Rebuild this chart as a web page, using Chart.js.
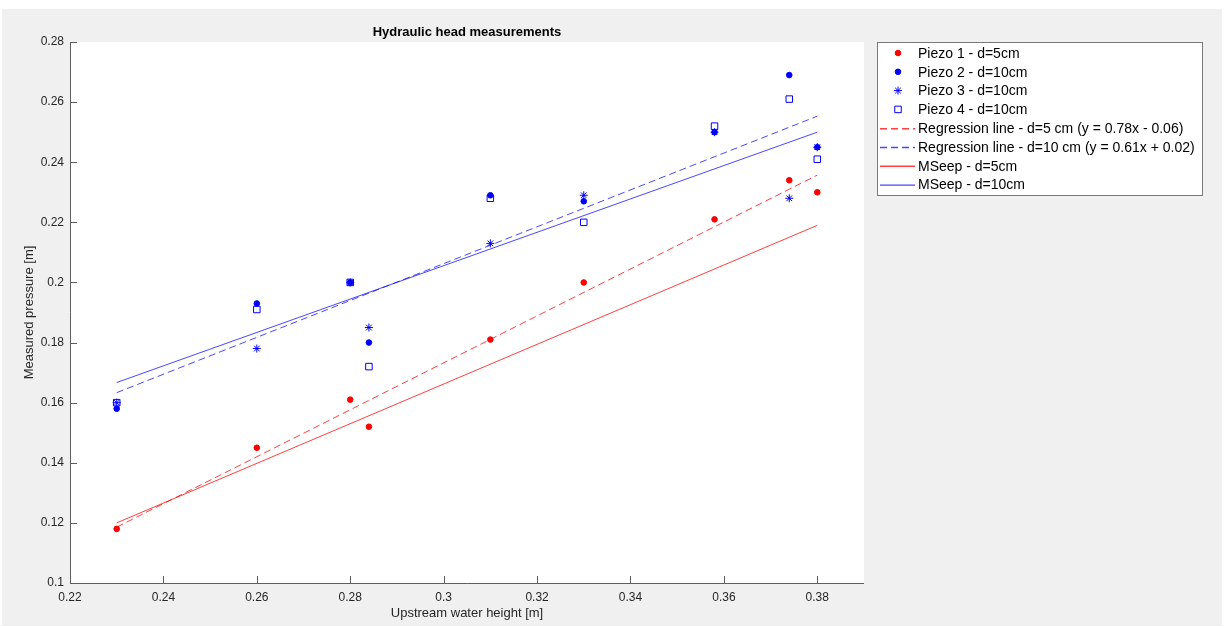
<!DOCTYPE html>
<html>
<head>
<meta charset="utf-8">
<title>Hydraulic head measurements</title>
<script src="https://cdn.jsdelivr.net/npm/chart.js@4.4.1/dist/chart.umd.min.js"></script>
<style>
  html, body { margin: 0; padding: 0; background: #fff; }
  #wrap { width: 1224px; height: 628px; }
</style>
</head>
<body>
<div id="wrap"><canvas id="headChart" width="1224" height="628"></canvas></div>
<script>
// Upstream water height [m] of each test run
const upstreamHeight = [0.23, 0.26, 0.28, 0.284, 0.31, 0.33, 0.358, 0.374, 0.38];

// Measured pressure [m] per piezometer, same order as upstreamHeight
const piezo1 = [0.118, 0.145, 0.161, 0.152, 0.181, 0.200, 0.221, 0.234, 0.230];
const piezo2 = [0.158, 0.193, 0.200, 0.180, 0.229, 0.227, 0.250, 0.269, 0.245];
const piezo3 = [0.160, 0.178, 0.200, 0.185, 0.213, 0.229, 0.250, 0.228, 0.245];
const piezo4 = [0.160, 0.191, 0.200, 0.172, 0.228, 0.220, 0.252, 0.261, 0.241];

// MSeep model, evaluated at both ends of the tested range
const mseepHeight = [0.23, 0.38];
const mseep5 = [0.120, 0.219];
const mseep10 = [0.1667, 0.250];

// Axis ticks
const xTicks = [0.22, 0.24, 0.26, 0.28, 0.30, 0.32, 0.34, 0.36, 0.38];
const yTicks = [0.10, 0.12, 0.14, 0.16, 0.18, 0.20, 0.22, 0.24, 0.26, 0.28];

const FONT = '"Liberation Sans", Arial, Helvetica, sans-serif';
const RED = '#ff0000';
const BLUE = '#0000ff';
const RED_LINE = 'rgba(255, 0, 0, 0.75)';
const BLUE_LINE = 'rgba(0, 0, 255, 0.72)';

// least squares fit y = a*x + b
function linearFit(xs, ys) {
    const n = xs.length;
    const mx = xs.reduce((s, v) => s + v, 0) / n;
    const my = ys.reduce((s, v) => s + v, 0) / n;
    let sxy = 0, sxx = 0;
    for (let i = 0; i < n; i++) {
        sxy += (xs[i] - mx) * (ys[i] - my);
        sxx += (xs[i] - mx) * (xs[i] - mx);
    }
    const slope = sxy / sxx;
    return { slope: slope, intercept: my - slope * mx };
}

function fitText(f) {
    const sign = f.intercept < 0 ? '-' : '+';
    return 'y = ' + f.slope.toFixed(2) + 'x ' + sign + ' ' + Math.abs(f.intercept).toFixed(2);
}

function fitLine(f) {
    const lo = Math.min(...upstreamHeight);
    const hi = Math.max(...upstreamHeight);
    return [lo, hi].map(x => ({ x: x, y: f.slope * x + f.intercept }));
}

const toPoints = (xs, ys) => xs.map((x, i) => ({ x: x, y: ys[i] }));

const fit5 = linearFit(upstreamHeight, piezo1);
const fit10 = linearFit(
    upstreamHeight.concat(upstreamHeight, upstreamHeight),
    piezo2.concat(piezo3, piezo4)
);

const datasets = [
    {
        label: 'Piezo 1 - d=5cm',
        data: toPoints(upstreamHeight, piezo1),
        pointStyle: 'circle', pointRadius: 2.8, borderWidth: 1,
        borderColor: RED, backgroundColor: RED
    },
    {
        label: 'Piezo 2 - d=10cm',
        data: toPoints(upstreamHeight, piezo2),
        pointStyle: 'circle', pointRadius: 2.8, borderWidth: 1,
        borderColor: BLUE, backgroundColor: BLUE
    },
    {
        label: 'Piezo 3 - d=10cm',
        data: toPoints(upstreamHeight, piezo3),
        pointStyle: 'star', pointRadius: 4, borderWidth: 1,
        borderColor: BLUE, backgroundColor: BLUE
    },
    {
        label: 'Piezo 4 - d=10cm',
        data: toPoints(upstreamHeight, piezo4),
        pointStyle: 'rect', pointRadius: 4.6, borderWidth: 1,
        borderColor: BLUE, backgroundColor: 'rgba(0,0,0,0)'
    },
    {
        label: 'Regression line - d=5 cm (' + fitText(fit5) + ')',
        data: fitLine(fit5),
        showLine: true, pointRadius: 0, borderWidth: 1,
        borderColor: RED_LINE, borderDash: [7, 4]
    },
    {
        label: 'Regression line - d=10 cm (' + fitText(fit10) + ')',
        data: fitLine(fit10),
        showLine: true, pointRadius: 0, borderWidth: 1,
        borderColor: BLUE_LINE, borderDash: [7, 4]
    },
    {
        label: 'MSeep - d=5cm',
        data: toPoints(mseepHeight, mseep5),
        showLine: true, pointRadius: 0, borderWidth: 1,
        borderColor: RED_LINE
    },
    {
        label: 'MSeep - d=10cm',
        data: toPoints(mseepHeight, mseep10),
        showLine: true, pointRadius: 0, borderWidth: 1,
        borderColor: BLUE_LINE
    }
];
// draw in list order, so later series sit on top
datasets.forEach((ds, i) => { ds.order = datasets.length - i; });

const tickLabel = v => String(parseFloat(v.toFixed(2)));

// figure background, white axes box
const backdrop = {
    id: 'backdrop',
    beforeDraw(chart) {
        const { ctx, chartArea: a } = chart;
        ctx.save();
        ctx.fillStyle = '#ffffff';
        ctx.fillRect(0, 0, chart.width, chart.height);
        ctx.fillStyle = '#f0f0f0';
        ctx.fillRect(2, 9, chart.width - 4, chart.height - 11);
        ctx.fillStyle = '#ffffff';
        ctx.fillRect(a.left, a.top, a.right - a.left, a.bottom - a.top);
        ctx.restore();
    }
};

// axis lines with inward ticks, title and legend box
const decorations = {
    id: 'decorations',
    afterDraw(chart) {
        const { ctx, chartArea: a, scales } = chart;
        ctx.save();

        ctx.strokeStyle = '#5e5e5e';
        ctx.lineWidth = 1;
        ctx.beginPath();
        ctx.moveTo(a.left + 0.5, a.top);
        ctx.lineTo(a.left + 0.5, a.bottom + 0.5);
        ctx.lineTo(a.right, a.bottom + 0.5);
        xTicks.forEach(v => {
            const px = Math.round(scales.x.getPixelForValue(v)) + 0.5;
            ctx.moveTo(px, a.bottom);
            ctx.lineTo(px, a.bottom - 7);
        });
        yTicks.forEach(v => {
            const py = Math.round(scales.y.getPixelForValue(v)) + 0.5;
            ctx.moveTo(a.left, py);
            ctx.lineTo(a.left + 7, py);
        });
        ctx.stroke();

        // title
        ctx.fillStyle = '#000000';
        ctx.font = 'bold 13px ' + FONT;
        ctx.textAlign = 'center';
        ctx.textBaseline = 'middle';
        ctx.fillText('Hydraulic head measurements', (a.left + a.right) / 2, 32);

        // legend
        const box = { x: 877.5, y: 42.5, w: 325, h: 153 };
        ctx.fillStyle = '#ffffff';
        ctx.fillRect(box.x, box.y, box.w, box.h);
        ctx.strokeStyle = '#7a7a7a';
        ctx.strokeRect(box.x, box.y, box.w, box.h);

        ctx.font = '14px ' + FONT;
        ctx.textAlign = 'left';
        chart.data.datasets.forEach((ds, i) => {
            const cy = 53 + i * 18.8;
            if (ds.showLine) {
                ctx.strokeStyle = ds.borderColor;
                ctx.lineWidth = 1.4;
                ctx.setLineDash(ds.borderDash || []);
                ctx.beginPath();
                ctx.moveTo(880, cy + 0.5);
                ctx.lineTo(915, cy + 0.5);
                ctx.stroke();
                ctx.setLineDash([]);
            } else {
                drawMarker(ctx, ds, 898, cy);
            }
            ctx.fillStyle = '#000000';
            ctx.fillText(ds.label, 918, cy + 1);
        });
        ctx.restore();
    }
};

function drawMarker(ctx, ds, x, y) {
    const r = ds.pointRadius;
    ctx.strokeStyle = ds.borderColor;
    ctx.fillStyle = ds.backgroundColor;
    ctx.lineWidth = ds.borderWidth;
    ctx.beginPath();
    if (ds.pointStyle === 'circle') {
        ctx.arc(x, y, r, 0, Math.PI * 2);
        ctx.fill();
        ctx.stroke();
    } else if (ds.pointStyle === 'star') {
        const d = r * Math.SQRT1_2;
        ctx.moveTo(x - r, y); ctx.lineTo(x + r, y);
        ctx.moveTo(x, y - r); ctx.lineTo(x, y + r);
        ctx.moveTo(x - d, y - d); ctx.lineTo(x + d, y + d);
        ctx.moveTo(x - d, y + d); ctx.lineTo(x + d, y - d);
        ctx.stroke();
    } else {
        const s = r * Math.SQRT1_2;
        ctx.rect(x - s, y - s, 2 * s, 2 * s);
        ctx.stroke();
    }
}

Chart.defaults.font.family = FONT;
Chart.defaults.color = '#262626';

new Chart(document.getElementById('headChart'), {
    type: 'scatter',
    data: { datasets: datasets },
    options: {
        responsive: false,
        animation: false,
        devicePixelRatio: 1,
        events: [],
        layout: { padding: { top: 42, right: 360, bottom: 0, left: 0 } },
        plugins: {
            legend: { display: false },
            tooltip: { enabled: false },
            title: { display: false }
        },
        scales: {
            x: {
                type: 'linear',
                min: 0.22,
                max: 0.39,
                afterBuildTicks: scale => { scale.ticks = xTicks.map(v => ({ value: v })); },
                afterFit: scale => { scale.height = 45; },
                grid: { display: false, drawTicks: false },
                border: { display: false },
                ticks: { callback: tickLabel, padding: 7, font: { size: 12 }, color: '#262626', maxRotation: 0 },
                title: {
                    display: true,
                    text: 'Upstream water height [m]',
                    font: { size: 13 },
                    color: '#262626',
                    padding: { top: 0, bottom: 7 }
                }
            },
            y: {
                type: 'linear',
                min: 0.10,
                max: 0.28,
                afterBuildTicks: scale => { scale.ticks = yTicks.map(v => ({ value: v })); },
                afterFit: scale => { scale.width = 70; },
                grid: { display: false, drawTicks: false },
                border: { display: false },
                ticks: { callback: tickLabel, padding: 6, font: { size: 12 }, color: '#262626' },
                title: {
                    display: true,
                    text: 'Measured pressure [m]',
                    font: { size: 13 },
                    color: '#262626',
                    padding: { top: 22, bottom: 0 }
                }
            }
        }
    },
    plugins: [backdrop, decorations]
});
</script>
</body>
</html>
